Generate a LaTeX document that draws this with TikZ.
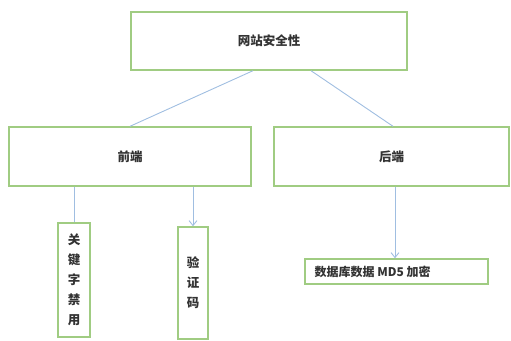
\documentclass[tikz,border=0pt]{standalone}
\usepackage{fontspec}
\setmainfont{Noto Sans CJK SC}
\usetikzlibrary{arrows.meta}
\definecolor{boxgreen}{RGB}{160,204,130}
\definecolor{linkblue}{RGB}{160,190,225}
\begin{document}
\begin{tikzpicture}[x=1pt,y=-1pt,
  box/.style={draw=boxgreen,line width=1.4pt,fill=white,rectangle,inner sep=0pt,
    font=\fontsize{12.5}{20}\selectfont\bfseries,text=black!80},
  link/.style={draw=linkblue,line width=0.9pt},
  arr/.style={link,-{Straight Barb[length=5pt,width=8pt,line width=0.9pt]}}]
\useasboundingbox (0,0) rectangle (511,340);
\node[box,minimum width=276pt,minimum height=58pt] (top) at (269,41) {网站安全性};
\node[box,minimum width=242pt,minimum height=59pt] (front) at (130,156.5) {前端};
\node[box,minimum width=235pt,minimum height=59pt] (back) at (391.5,156.5) {后端};
\node[box,minimum width=32pt,minimum height=114pt,align=center] (kw) at (74,280) {关\\键\\字\\禁\\用};
\node[box,minimum width=30pt,minimum height=112pt,align=center] (vc) at (193,283) {验\\证\\码};
\node[box,minimum width=183pt,minimum height=25pt] (md) at (396.5,271.5) {};
\node[anchor=west,inner sep=0pt,font=\fontsize{12}{14}\selectfont\bfseries,text=black!80] (mdt) at ([xshift=10pt]md.west) {数据库数据 MD5 加密};
\draw[link] ([xshift=-16pt]top.south) -- (front.north);
\draw[link] ([xshift=42pt]top.south) -- ([xshift=1.5pt]back.north);
\draw[link] (kw.north |- front.south) -- (kw.north);
\draw[arr] (vc.north |- front.south) -- (vc.north);
\draw[arr] ([xshift=-1.5pt]md.north |- back.south) -- ([xshift=-1.5pt]md.north);
\end{tikzpicture}
\end{document}
